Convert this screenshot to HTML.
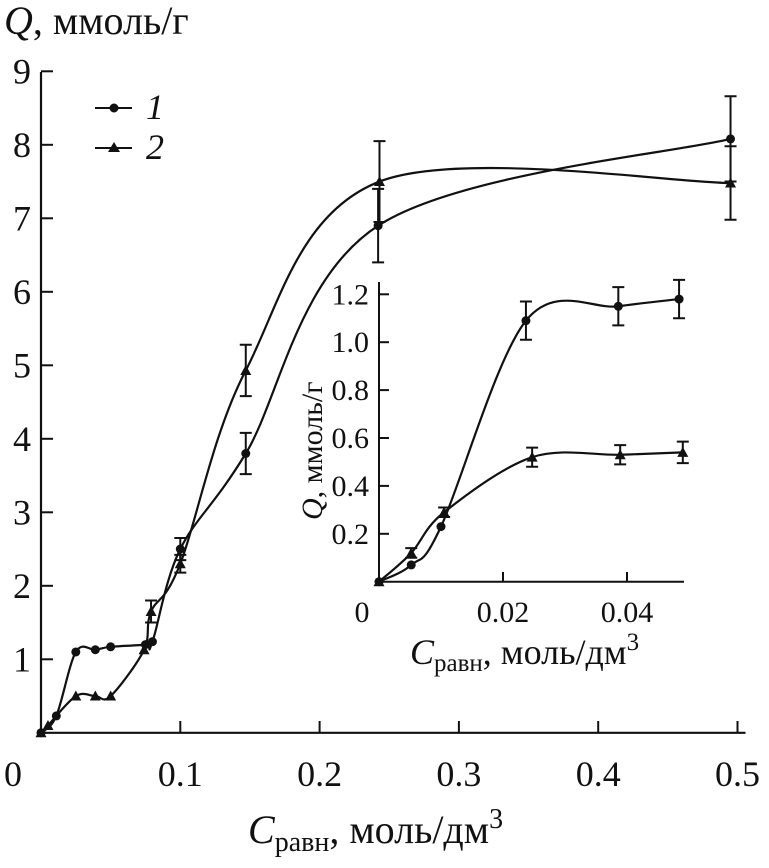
<!DOCTYPE html>
<html><head><meta charset="utf-8"><style>
body{margin:0;background:#fff;}
svg text{font-family:"Liberation Serif",serif;fill:#111;}
</style></head><body>
<svg id="chart" width="769" height="863" viewBox="0 0 769 863" xmlns="http://www.w3.org/2000/svg"></svg>
<script>
// main chart data
const mainXTicks=[0,0.1,0.2,0.3,0.4,0.5];
const mainYTicks=[1,2,3,4,5,6,7,8,9];
const s1X=[0,0.011,0.025,0.039,0.050,0.075,0.080,0.100,0.147,0.242,0.495];
const s1Y=[0,0.23,1.10,1.13,1.17,1.20,1.24,2.50,3.80,6.90,8.08];
const s1Err=[0,0,0,0,0,0,0,0.15,0.28,0.50,0.58];
const s2X=[0,0.005,0.025,0.039,0.050,0.074,0.079,0.100,0.147,0.243,0.495];
const s2Y=[0,0.10,0.50,0.50,0.50,1.13,1.65,2.30,4.93,7.50,7.48];
const s2Err=[0,0,0,0,0,0,0.15,0.12,0.35,0.55,0.50];
// inset data
const inXTicks=[0.02,0.04];
const inYTicks=[0.2,0.4,0.6,0.8,1.0,1.2];
const i1X=[0,0.0052,0.0100,0.0237,0.0386,0.0484];
const i1Y=[0,0.07,0.23,1.09,1.15,1.18];
const i1Err=[0,0,0,0.08,0.08,0.08];
const i2X=[0,0.0052,0.0105,0.0247,0.0389,0.0490];
const i2Y=[0,0.12,0.29,0.52,0.53,0.54];
const i2Err=[0,0.02,0.02,0.04,0.04,0.045];

const NS="http://www.w3.org/2000/svg";
const svg=document.getElementById('chart');
function mk(tag,attrs,parent){const e=document.createElementNS(NS,tag);for(const k in attrs)e.setAttribute(k,attrs[k]);(parent||svg).appendChild(e);return e;}
const mx=v=>41+v*1393, my=v=>732.8-v*73.5;
const ix=v=>379+v*6200, iy=v=>581.7-v*239.5;

function spline(xs,ys,fx,fy){
  const p=xs.map((x,i)=>[fx(x),fy(ys[i])]);
  let d=`M${p[0][0]},${p[0][1]}`;
  for(let i=0;i<p.length-1;i++){
    const p0=p[Math.max(0,i-1)],p1=p[i],p2=p[i+1],p3=p[Math.min(p.length-1,i+2)];
    const t=0.5/3;
    d+=` C${p1[0]+(p2[0]-p0[0])*t},${p1[1]+(p2[1]-p0[1])*t} ${p2[0]-(p3[0]-p1[0])*t},${p2[1]-(p3[1]-p1[1])*t} ${p2[0]},${p2[1]}`;
  }
  return d;
}
function series(xs,ys,errs,fx,fy,shape,name,r){
  const g=mk('g',{});
  
  
  const path=mk('path',{d:spline(xs,ys,fx,fy),fill:'none',stroke:'#111','stroke-width':2.2},g);
  
  
  xs.forEach((x,i)=>{
    const cx=fx(x),cy=fy(ys[i]);
    if(errs[i]>0){
      const a=fy(ys[i]+errs[i]),b=fy(ys[i]-errs[i]);
      const eb=mk('path',{d:`M${cx},${a}V${b}M${cx-6},${a}H${cx+6}M${cx-6},${b}H${cx+6}`,stroke:'#111','stroke-width':2,fill:'none'},g);
      
      
    }
    let m;
    if(shape==='circle') m=mk('circle',{cx:cx,cy:cy,r:r,fill:'#111'},g);
    else m=mk('polygon',{points:`${cx},${cy-r-1} ${cx-r-1},${cy+r} ${cx+r+1},${cy+r}`,fill:'#111'},g);
    
    
  });
}
// main axes
const ax=mk('path',{d:`M41,72V732.8H${mx(0.5)+8}`,stroke:'#111','stroke-width':2.2,fill:'none'});


mainYTicks.forEach(v=>{
  const t=mk('line',{x1:41,x2:53,y1:my(v),y2:my(v),stroke:'#111','stroke-width':2});
  
  
  const l=mk('text',{x:22,y:my(v)+12,'font-size':36,'text-anchor':'middle'});l.textContent=v;
  
  
});
mainXTicks.forEach(v=>{
  if(v>0){const t=mk('line',{x1:mx(v),x2:mx(v),y1:732.8,y2:721,stroke:'#111','stroke-width':2});
  
  }
  const l=mk('text',{x:v===0?13:mx(v),y:786,'font-size':36,'text-anchor':'middle'});l.textContent=v;
  
  
});
const yt=mk('text',{x:4,y:34,'font-size':40});
yt.innerHTML='<tspan font-style="italic">Q</tspan>, ммоль/г';


const xt=mk('text',{x:248,y:843,'font-size':40});
xt.innerHTML='<tspan font-style="italic">C</tspan><tspan font-size="28" dy="8">равн</tspan><tspan dy="-8">, моль/дм</tspan><tspan font-size="28" dy="-15">3</tspan>';


series(s1X,s1Y,s1Err,mx,my,'circle','series-1',4.5);
series(s2X,s2Y,s2Err,mx,my,'tri','series-2',4.5);
// legend
const lg=mk('g',{});


mk('line',{x1:95,x2:132,y1:108,y2:108,stroke:'#111','stroke-width':2},lg);
mk('circle',{cx:114,cy:108,r:4.5,fill:'#111'},lg);
const l1=mk('text',{x:146,y:119,'font-size':36,'font-style':'italic'},lg);l1.textContent='1';
mk('line',{x1:95,x2:132,y1:148,y2:148,stroke:'#111','stroke-width':2},lg);
mk('polygon',{points:'114,142 108,152 120,152',fill:'#111'},lg);
const l2=mk('text',{x:146,y:159,'font-size':36,'font-style':'italic'},lg);l2.textContent='2';
// inset
const iax=mk('path',{d:`M379,282V581.7H684`,stroke:'#111','stroke-width':2,fill:'none'});


inYTicks.forEach(v=>{
  const t=mk('line',{x1:379,x2:389,y1:iy(v),y2:iy(v),stroke:'#111','stroke-width':2});
  
  
  const l=mk('text',{x:369,y:iy(v)+10,'font-size':30,'text-anchor':'end'});l.textContent=v.toFixed(1);
  
  
});
inXTicks.forEach(v=>{
  const t=mk('line',{x1:ix(v),x2:ix(v),y1:581.7,y2:572,stroke:'#111','stroke-width':2});
  
  
  const l=mk('text',{x:ix(v),y:622,'font-size':30,'text-anchor':'middle'});l.textContent=v;
  
  
});
const i0=mk('text',{x:362,y:622,'font-size':30,'text-anchor':'middle'});i0.textContent='0';


const iyt=mk('text',{x:0,y:0,'font-size':30,transform:'translate(322,520) rotate(-90)'});
iyt.innerHTML='<tspan font-style="italic">Q</tspan>, ммоль/г';


const ixt=mk('text',{x:410,y:664,'font-size':36});
ixt.innerHTML='<tspan font-style="italic">C</tspan><tspan font-size="25" dy="7">равн</tspan><tspan dy="-7">, моль/дм</tspan><tspan font-size="25" dy="-14">3</tspan>';


series(i1X,i1Y,i1Err,ix,iy,'circle','inset-series-1',4.5);
series(i2X,i2Y,i2Err,ix,iy,'tri','inset-series-2',4.5);
</script>
</body></html>
